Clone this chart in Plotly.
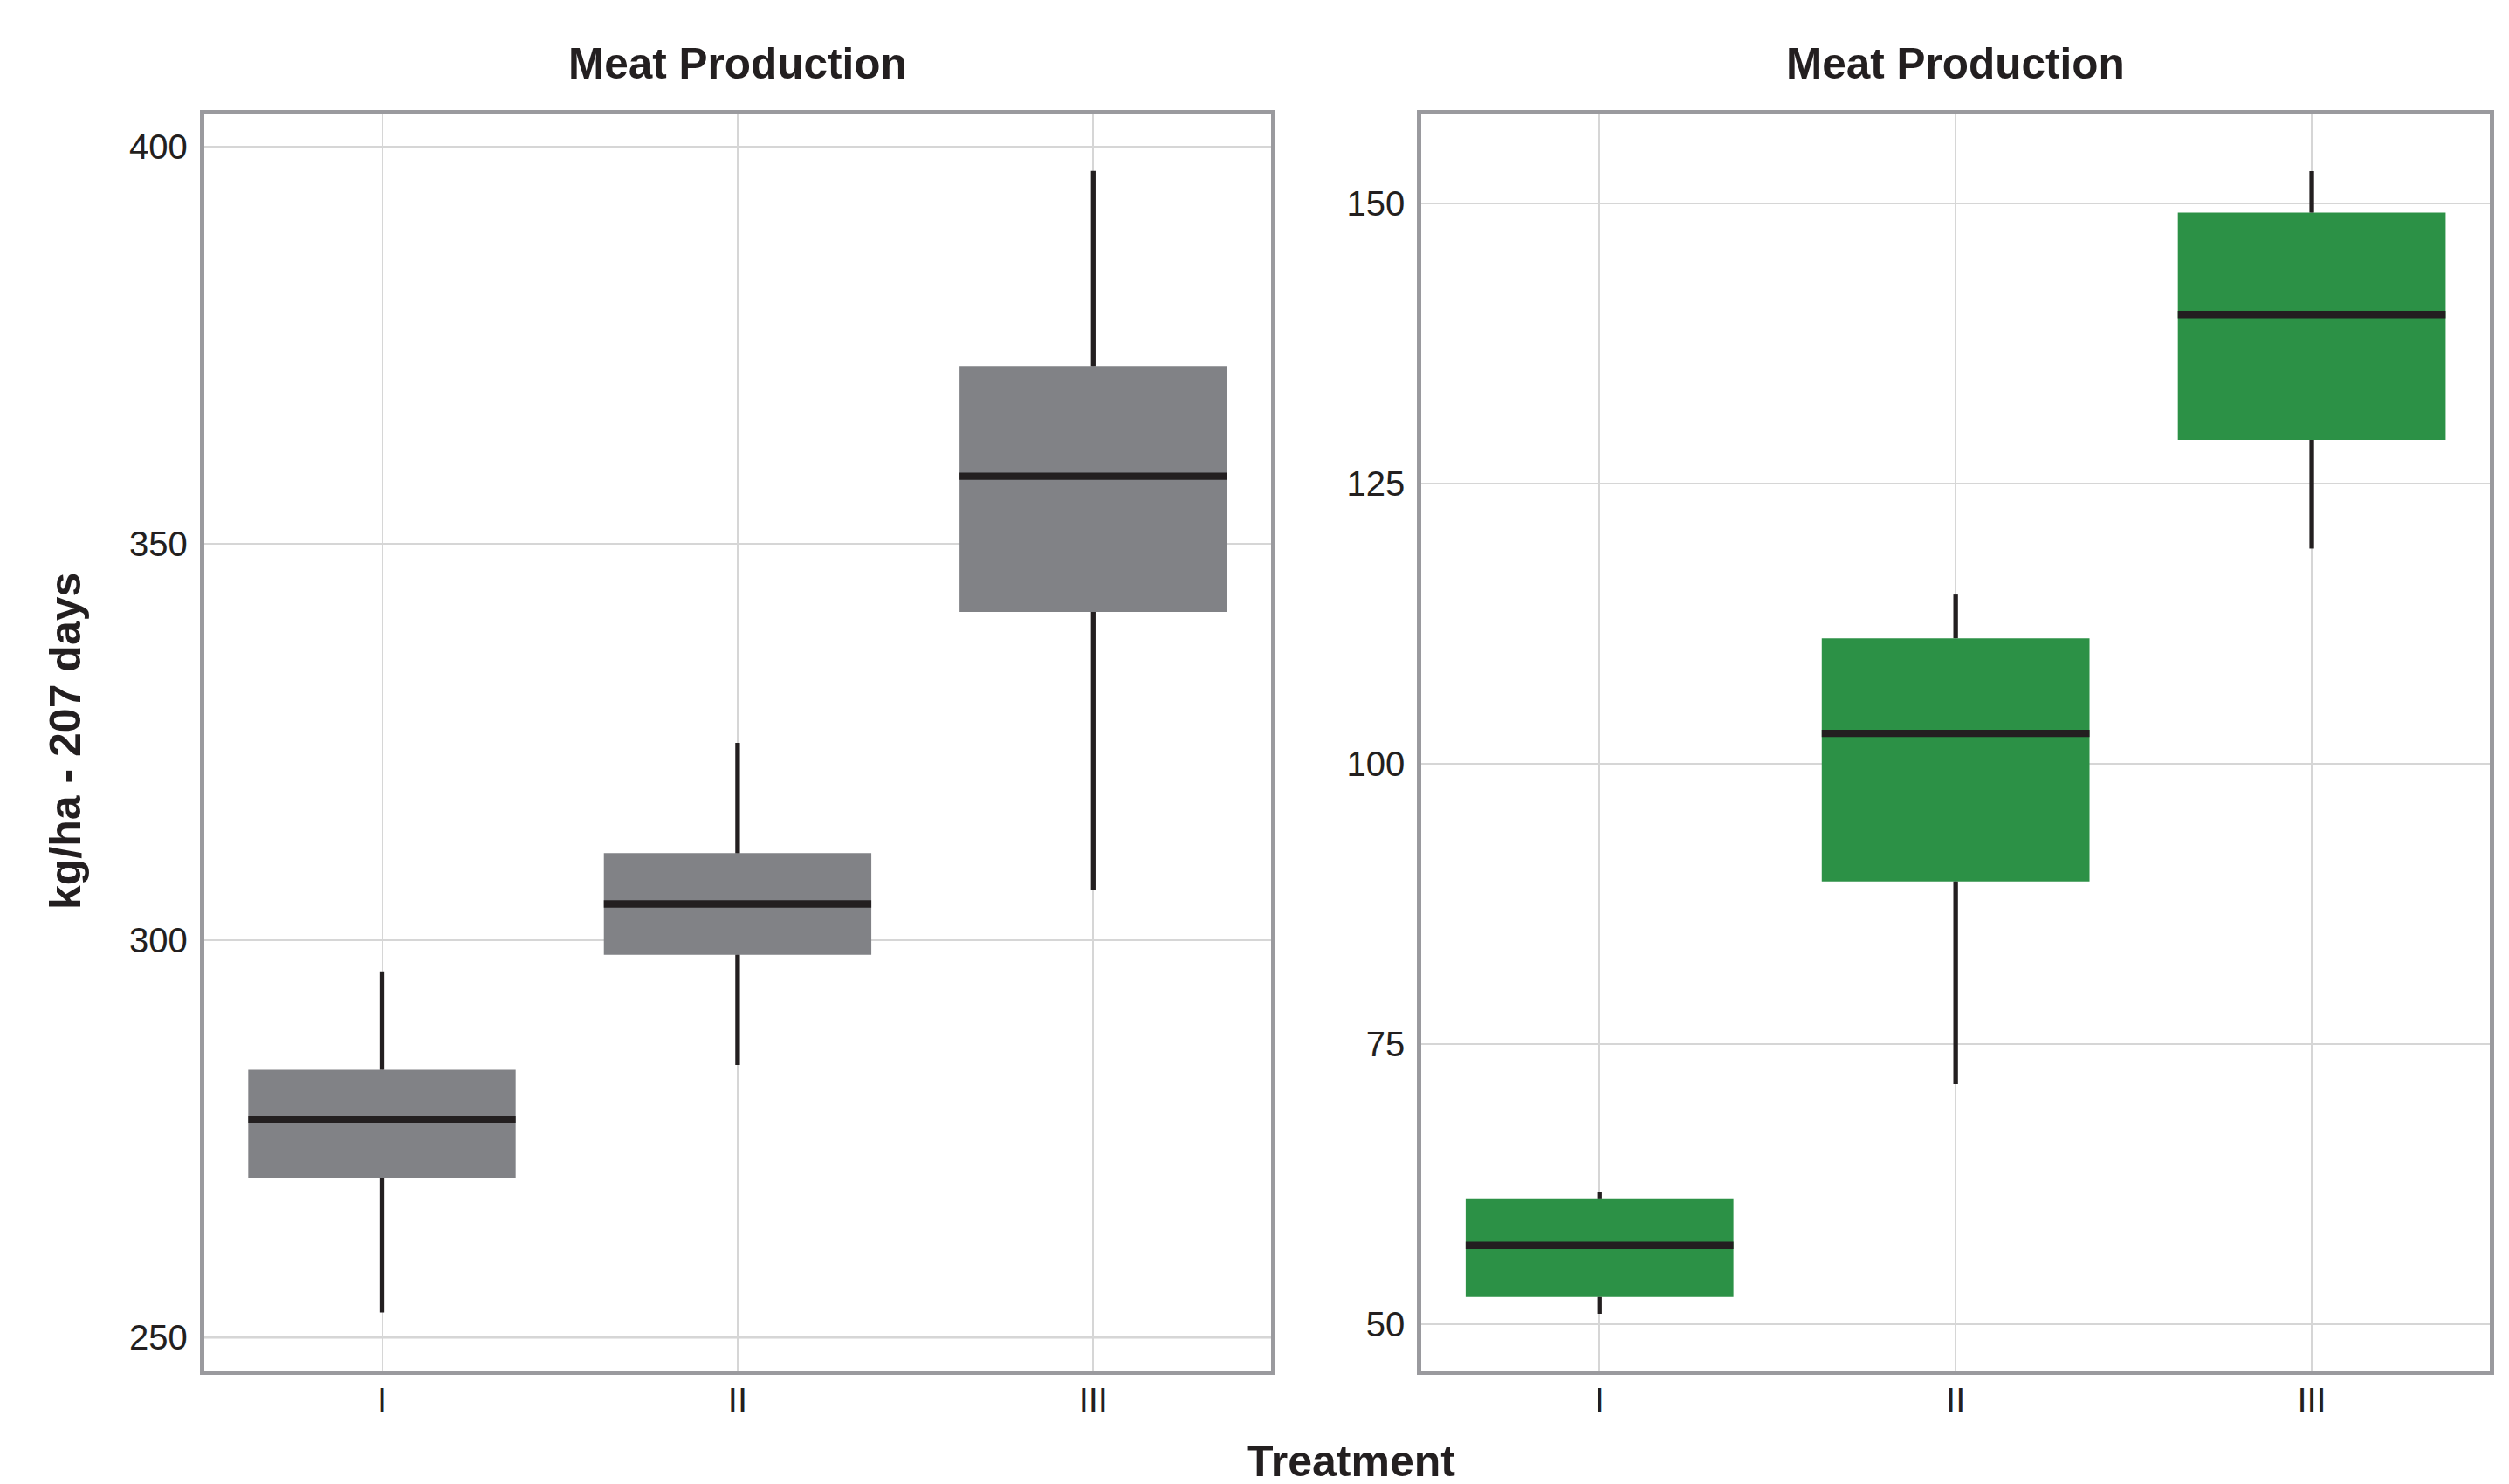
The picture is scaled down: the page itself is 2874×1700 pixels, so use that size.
import plotly.graph_objects as go

categories = ["I", "II", "III"]
cat_pos = [0, 1, 2]

left_lower = [253.1, 284.3, 306.3]
left_q1 = [270.1, 298.2, 341.4]
left_median = [277.4, 304.6, 358.5]
left_q3 = [283.7, 311.0, 372.4]
left_upper = [296.1, 324.9, 397.0]

right_lower = [50.9, 71.4, 119.2]
right_q1 = [52.4, 89.5, 128.9]
right_median = [57.0, 102.7, 140.1]
right_q3 = [61.2, 111.2, 149.2]
right_upper = [61.8, 115.1, 152.9]

left_ticks = [250, 300, 350, 400]
right_ticks = [50, 75, 100, 125, 150]

title_text = "Meat Production"
y_title = "kg/ha - 207 days"
x_title = "Treatment"

GRAY = "#818286"
GREEN = "#2c9146"
DARK = "#231f20"
FRAME = "#9a9a9e"
GRID = "#d6d6d6"
FONT = "Liberation Sans"
BOX_W = 0.752

fig = go.Figure()


def add_panel(xa, ya, lower, q1, med, q3, upper, color):
    fig.add_trace(go.Bar(
        x=cat_pos, y=[b - a for a, b in zip(q1, q3)], base=q1,
        width=BOX_W, marker=dict(color=color, line=dict(width=0)),
        xaxis=xa, yaxis=ya, showlegend=False, hoverinfo="skip"))
    wx, wy = [], []
    for p, lo, a, b, hi in zip(cat_pos, lower, q1, q3, upper):
        wx += [p, p, None, p, p, None]
        wy += [lo, a, None, b, hi, None]
    fig.add_trace(go.Scatter(
        x=wx, y=wy, mode="lines", line=dict(color=DARK, width=5.3),
        xaxis=xa, yaxis=ya, showlegend=False, hoverinfo="skip"))
    mx, my = [], []
    for p, m in zip(cat_pos, med):
        mx += [p - BOX_W / 2, p + BOX_W / 2, None]
        my += [m, m, None]
    fig.add_trace(go.Scatter(
        x=mx, y=my, mode="lines", line=dict(color=DARK, width=8.3),
        xaxis=xa, yaxis=ya, showlegend=False, hoverinfo="skip"))


add_panel("x", "y", left_lower, left_q1, left_median, left_q3, left_upper, GRAY)
add_panel("x2", "y2", right_lower, right_q1, right_median, right_q3, right_upper, GREEN)

W, H = 2874, 1700
ydom = [(H - 1561.7) / H, (H - 122.5) / H]

tickfont = dict(family=FONT, size=40, color=DARK)
common = dict(
    showline=True, mirror=True, linecolor=FRAME, linewidth=5,
    showgrid=True, gridcolor=GRID, gridwidth=2, zeroline=False,
    ticks="", tickfont=tickfont,
)

fig.update_layout(
    width=W, height=H,
    margin=dict(l=0, r=0, t=0, b=0),
    paper_bgcolor="white", plot_bgcolor="white",
    barmode="overlay",
    xaxis=dict(domain=[225.8 / W, 1448 / W], range=[-0.5, 2.5],
               tickvals=cat_pos, ticktext=categories, anchor="y",
               ticklabelstandoff=-5, **common),
    yaxis=dict(domain=ydom, range=[245.83, 404.17], tickvals=left_ticks,
               anchor="x", ticklabelstandoff=6, **common),
    xaxis2=dict(domain=[1620.3 / W, 2844 / W], range=[-0.5, 2.5],
                tickvals=cat_pos, ticktext=categories, anchor="y2",
                ticklabelstandoff=-5, **common),
    yaxis2=dict(domain=ydom, range=[45.86, 158.0], tickvals=right_ticks,
                anchor="x2", ticklabelstandoff=6, **common),
)

fig.add_shape(type="line", xref="x domain", yref="y", x0=0, x1=1, y0=250, y1=250,
              line=dict(color="#a8a8a8", width=2.7), layer="below")

title_font = dict(family=FONT, size=49.5, color=DARK)
axis_title_font = dict(family=FONT, size=50, color=DARK)
for cx in [(225.8 + 1448) / 2 / W, (1620.3 + 2844) / 2 / W]:
    fig.add_annotation(text="<b>%s</b>" % title_text, x=cx, y=(H - 65) / H,
                       xref="paper", yref="paper", showarrow=False,
                       font=title_font, xanchor="center", yanchor="middle")

fig.add_annotation(text="<b>%s</b>" % y_title, x=67 / W, y=(H - 841) / H,
                   xref="paper", yref="paper", showarrow=False, textangle=-90,
                   font=axis_title_font, xanchor="center", yanchor="middle")

fig.add_annotation(text="<b>%s</b>" % x_title, x=1539 / W, y=(H - 1666) / H,
                   xref="paper", yref="paper", showarrow=False,
                   font=axis_title_font, xanchor="center", yanchor="middle")

fig.write_html("out.html")
